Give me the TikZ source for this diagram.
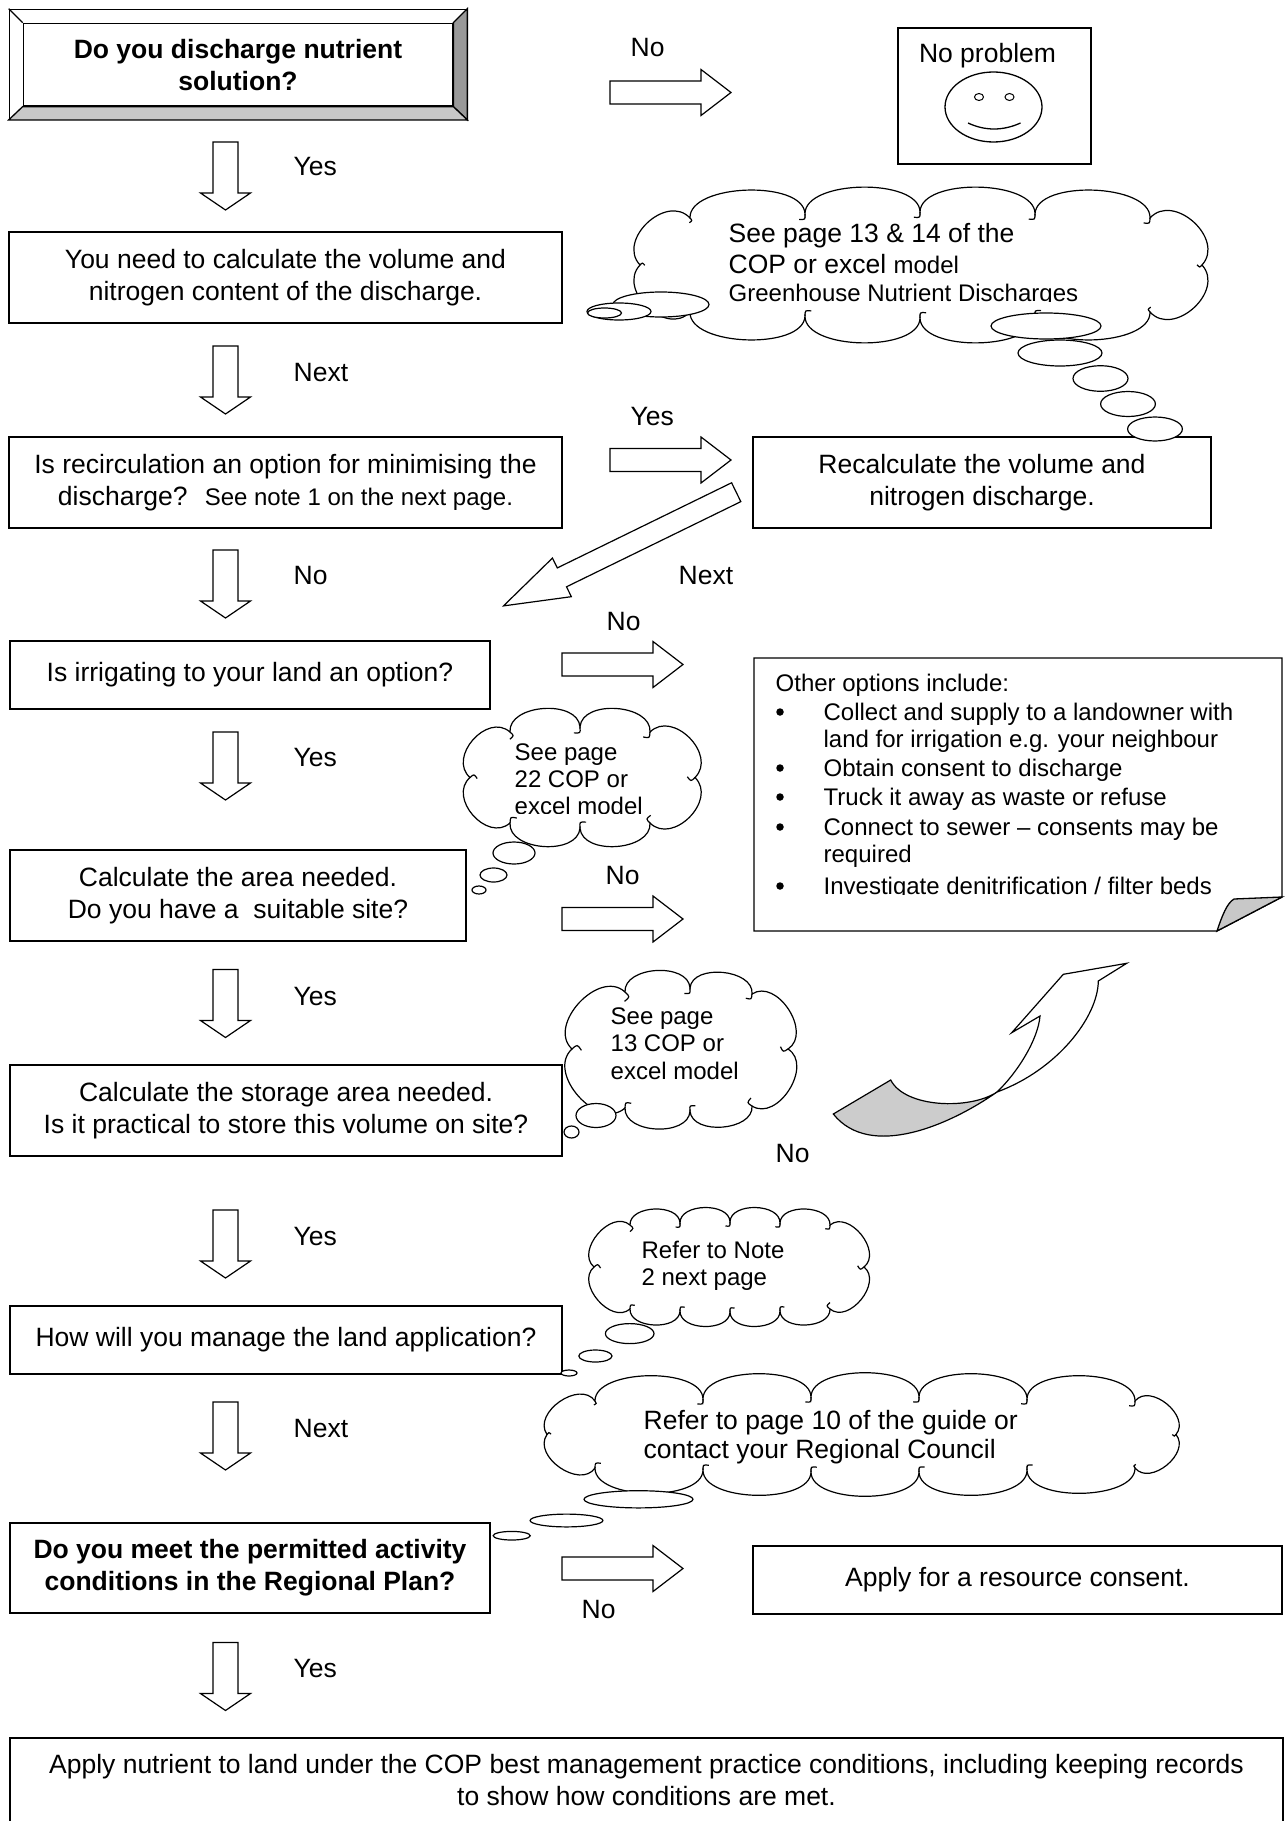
\documentclass[tikz,border=0pt]{standalone}
\usepackage{fontspec}
\setmainfont{Liberation Sans}
\usetikzlibrary{shapes.geometric,calc}
\definecolor{bevgray}{HTML}{999999}
\definecolor{bevlight}{HTML}{C8C8C8}
\definecolor{curlgray}{HTML}{CCCCCC}
\newcommand\bigf{\fontsize{26.5}{32}\selectfont}
\newcommand\smallf{\fontsize{24}{28}\selectfont}
% cloud outlines (point lists, clockwise on the page)
\newcommand\cloudA{(640,265) to[pf=0.5] (690,218) to (805,214) to (920,212) to (1035,214) to (1150,218) to[pf=0.5] (1202,265) to[pf=0.5] (1150,312) to (1035,316) to (920,318) to (805,316) to (690,312) to[pf=0.5] (640,265)}
\newcommand\cloudB{(510,732) to (580,727) to (650,732) to[pf=0.5] (695,777.5) to[pf=0.5] (650,823) to (580,828) to (510,823) to[pf=0.5] (470,777.5) to[pf=0.5] (510,732)}
\newcommand\cloudC{(625,992) to (690,988) to (752,994) to[pf=0.45] (788,1049) to[pf=0.45] (752,1106) to (690,1111) to (625,1108) to[pf=0.45] (572,1049) to[pf=0.45] (625,992)}
\newcommand\cloudD{(630,1225) to (680,1223) to (730,1222) to (780,1223) to (830,1225) to[pf=0.45] (864,1267) to[pf=0.45] (830,1309) to (780,1311) to (730,1312) to (680,1311) to (630,1309) to[pf=0.45] (594,1267) to[pf=0.45] (630,1225)}
\newcommand\cloudE{(595,1401) to (703,1399) to (811,1397) to (919,1397) to (1027,1399) to (1135,1401) to[pf=0.45] (1176,1434.5) to[pf=0.45] (1135,1468) to (1027,1470) to (919,1472) to (811,1472) to (703,1470) to (595,1468) to[pf=0.45] (547,1434.5) to[pf=0.45] (595,1401)}
\begin{document}
\begin{tikzpicture}[x=1pt,y=-1pt,
  line width=1.3pt,
  box/.style={draw, fill=white, align=center, font=\bigf, inner sep=0pt},
  lbl/.style={font=\bigf, inner sep=0pt, anchor=base west},
  sml/.style={font=\smallf, inner sep=0pt, anchor=base west},
  dot/.style={circle, fill, inner sep=0pt, minimum size=7.5pt},
  arr/.style={draw, fill=white, line width=1.2pt, line join=miter},
  bub/.style={draw, fill=white, line width=1.2pt},
  puff/.style={to path={.. controls ($(\tikztostart)!#1!90:(\tikztotarget)$) and ($(\tikztotarget)!#1!-90:(\tikztostart)$) .. (\tikztotarget)}},
  puff/.default=0.4,
  stub/.style args={#1/#2}{to path={(\tikztotarget) .. controls ($(\tikztotarget)!#1!90:(\tikztostart)$) .. ($(\tikztotarget)!#2!40:(\tikztostart)$) (\tikztotarget)}},
  cloudline/.style={draw, fill=white, line width=1.2pt, every to/.style={puff=#1}, pf/.style={puff=##1}},
  cloudline/.default=0.4,
  curlline/.style={draw, line width=1.2pt, every to/.style={stub=#1}, pf/.style={stub=#1}},
  curlline/.default=0.09/0.12,
  pics/dnarrow/.style={code={\draw[arr] (0,-12.5) -- (51,-12.5) -- (51,-25) -- (68,0) -- (51,25) -- (51,12.5) -- (0,12.5) -- cycle;}},
  pics/rtarrow/.style={code={\draw[arr] (0,-11.5) -- (91,-11.5) -- (91,-23) -- (121,0) -- (91,23) -- (91,11.5) -- (0,11.5) -- cycle;}},
  pics/dgarrow/.style={code={\draw[arr] (0,-10.5) -- (194,-10.5) -- (194,-21.5) -- (259,0) -- (194,21.5) -- (194,10.5) -- (0,10.5) -- cycle;}}
]
\useasboundingbox (0,0) rectangle (1287,1822);

% ---------- top bevelled box ----------
\node[draw, minimum width=457.4pt, minimum height=110pt, inner sep=0pt] (b1) at (238,64.3) {};
\node[box, minimum width=429.4pt, minimum height=82.7pt, font=\bigf\bfseries] (b1i) at (238,64.65) {Do you discharge nutrient\\solution?};
\filldraw[fill=bevgray] (b1.north east) -- (b1.south east) -- (b1i.south east) -- (b1i.north east) -- cycle;
\filldraw[fill=bevlight] (b1.south west) -- (b1.south east) -- (b1i.south east) -- (b1i.south west) -- cycle;
\draw (b1.north west) -- (b1i.north west);

% ---------- No problem ----------
\node[draw, minimum width=193pt, minimum height=136pt, inner sep=0pt] (np) at (994.5,96) {};
\node[font=\bigf, inner sep=0pt, anchor=base] (nptext) at (987.5,63) {No problem};
\node[ellipse, draw, minimum width=97pt, minimum height=70pt, inner sep=0pt] (face) at (993.5,107) {};
\node[ellipse, draw, line width=1pt, minimum width=9pt, minimum height=7pt, inner sep=0pt] (eyel) at (979,97) {};
\node[ellipse, draw, line width=1pt, minimum width=9pt, minimum height=7pt, inner sep=0pt] (eyer) at (1009.5,97) {};
\coordinate (sml) at (968,123);
\coordinate (smr) at (1020.5,123);
\draw (sml) .. controls (985,131) and (1003,131) .. (smr);

% ---------- cloud 1 ----------
\draw[cloudline=0.3] \cloudA -- cycle;
\draw[curlline=0.05/0.07] \cloudA;
\node[lbl] (c1t1) at (728,242) {See page 13 \& 14 of the};
\node[lbl] (c1t2) at (728,273) {COP or excel {\smallf model}};
\begin{scope}
\clip (700,280) rectangle (1150,301.5);
\node[sml] (c1t3) at (728,301.5) {Greenhouse Nutrient Discharges};
\end{scope}
\draw[bub] (661,304.5) ellipse [x radius=48, y radius=12.5];
\draw[bub] (619,311.5) ellipse [x radius=32, y radius=8.5];
\draw[bub] (604.5,313) ellipse [x radius=17, y radius=5];

% ---------- boxes ----------
\node[box, minimum width=553pt, minimum height=91pt] (b2) at (285.5,277.5) {You need to calculate the volume and\\nitrogen content of the discharge.};
\node[box, minimum width=553pt, minimum height=91pt] (b3) at (285.5,482.5) {Is recirculation an option for minimising the\\discharge?~ {\smallf See note 1 on the next page.}};
\node[box, minimum width=458pt, minimum height=91pt] (rc) at (982,482.5) {Recalculate the volume and\\nitrogen discharge.};
\node[box, minimum width=480pt, minimum height=68pt] (b4) at (250,675) {Is irrigating to your land an option?};
\node[box, minimum width=456pt, minimum height=91pt] (b5) at (238,895.5) {Calculate the area needed.\\Do you have a~ suitable site?};
\node[box, minimum width=552pt, minimum height=91pt] (b6) at (286,1110.5) {Calculate the storage area needed.\\Is it practical to store this volume on site?};
\node[box, minimum width=552pt, minimum height=68pt] (b7) at (286,1340) {How will you manage the land application?};
\node[box, minimum width=480pt, minimum height=90pt, font=\bigf\bfseries] (b8) at (250,1568) {Do you meet the permitted activity\\conditions in the Regional Plan?};
\node[box, minimum width=529pt, minimum height=68pt] (cs) at (1017.5,1580) {Apply for a resource consent.};
\begin{scope}
\clip (0,1700) rectangle (1287,1820.5);
\node[box, minimum width=1273pt, minimum height=84pt] (b9) at (646.5,1780) {Apply nutrient to land under the COP best management practice conditions, including keeping records\\to show how conditions are met.};
\end{scope}

% cloud 1 tail to recalc box
\draw[bub] (1046,326) ellipse [x radius=55, y radius=13];
\draw[bub] (1060,353) ellipse [x radius=42, y radius=13];
\draw[bub] (1100.5,378.5) ellipse [x radius=27.5, y radius=12.8];
\draw[bub] (1128,404) ellipse [x radius=27.4, y radius=12.5];
\draw[bub] (1155,429) ellipse [x radius=27.4, y radius=12];

% ---------- other options (folded corner) ----------
\coordinate (oo1) at (754,658);
\coordinate (oo2) at (1282,658);
\coordinate (oo3) at (1282,897);
\coordinate (oo4) at (1217,931);
\coordinate (oo5) at (754,931);
\coordinate (oo6) at (1234,899);
\draw[fill=white] (oo1) -- (oo2) -- (oo3) -- (oo4) -- (oo5) -- cycle;
\draw[fill=bevlight] (oo4) .. controls (1222,916) and (1227,903) .. (oo6) -- (oo3) -- cycle;
\node[sml] (ot0) at (775,691) {Other options include:};
\node[dot] (ob1) at (780,712) {};
\node[sml] (ot1) at (823,720) {Collect and supply to a landowner with};
\node[sml] (ot1b) at (823,747) {land for irrigation e.g. your neighbour};
\node[dot] (ob2) at (780,768) {};
\node[sml] (ot2) at (823,776) {Obtain consent to discharge};
\node[dot] (ob3) at (780,797) {};
\node[sml] (ot3) at (823,805) {Truck it away as waste or refuse};
\node[dot] (ob4) at (780,827) {};
\node[sml] (ot4) at (823,835) {Connect to sewer \textendash\ consents may be};
\node[sml] (ot4b) at (823,862.5) {required};
\node[dot] (ob5) at (780,886) {};
\begin{scope}
\clip (760,860) rectangle (1270,894);
\node[sml] (ot5) at (823,894) {Investigate denitrification / filter beds};
\end{scope}

% ---------- cloud 2 ----------
\draw[cloudline=0.4] \cloudB -- cycle;
\draw[curlline] \cloudB;
\node[sml] (c2t1) at (514,760.5) {See page};
\node[sml] (c2t2) at (514,787.5) {22 COP or};
\begin{scope}
\clip (500,790) rectangle (700,813);
\node[sml] (c2t3) at (514,814.5) {excel model};
\end{scope}
\draw[bub] (514,853) ellipse [x radius=21, y radius=11];
\draw[bub] (493.5,875) ellipse [x radius=13.5, y radius=7];
\draw[bub] (479,890) ellipse [x radius=7, y radius=4];

% ---------- cloud 3 ----------
\draw[cloudline=0.4] \cloudC -- cycle;
\draw[curlline] \cloudC;
\node[sml] (c3t1) at (610,1024.5) {See page};
\node[sml] (c3t2) at (610,1051.5) {13 COP or};
\node[sml] (c3t3) at (610,1079) {excel model};
\draw[bub] (596,1115.5) ellipse [x radius=20, y radius=12];
\draw[bub] (571.5,1132) ellipse [x radius=7.5, y radius=6];

% ---------- cloud 4 ----------
\draw[cloudline=0.4] \cloudD -- cycle;
\draw[curlline] \cloudD;
\node[sml] (c4t1) at (641,1258) {Refer to Note};
\node[sml] (c4t2) at (641,1285) {2 next page};
\draw[bub] (629.7,1333.6) ellipse [x radius=24.3, y radius=10];
\draw[bub] (595.4,1356) ellipse [x radius=16.6, y radius=6];
\draw[bub] (569,1373) ellipse [x radius=8, y radius=3];

% ---------- cloud 5 ----------
\draw[cloudline=0.3] \cloudE -- cycle;
\draw[curlline=0.05/0.07] \cloudE;
\node[lbl] (c5t1) at (643,1429.5) {Refer to page 10 of the guide or};
\node[lbl] (c5t2) at (643,1458.5) {contact your Regional Council};
\draw[bub] (638.5,1499.3) ellipse [x radius=54.5, y radius=8.6];
\draw[bub] (566.5,1520.5) ellipse [x radius=36.4, y radius=6.4];
\draw[bub] (511.7,1535.7) ellipse [x radius=18.5, y radius=4.3];

% ---------- block arrows ----------
\coordinate (a1) at (225.5,142);
\coordinate (a2) at (225.5,346);
\coordinate (a3) at (225.5,550);
\coordinate (a4) at (225.5,732);
\coordinate (a5) at (225.5,969.5);
\coordinate (a6) at (225.5,1210);
\coordinate (a7) at (225.5,1402);
\coordinate (a8) at (225.5,1642.5);
\foreach \c in {a1,a2,a3,a4,a5,a6,a7,a8} {\pic[rotate=-90] at (\c) {dnarrow};}
\coordinate (r1) at (610,92.5);
\coordinate (r2) at (610,460);
\coordinate (r3) at (562,664.5);
\coordinate (r4) at (562,919);
\coordinate (r8) at (562,1568.5);
\foreach \c in {r1,r2,r3,r4,r8} {\pic at (\c) {rtarrow};}
\coordinate (dg) at (736.2,492.2);
\pic[rotate=-153.96] at (dg) {dgarrow};

% ---------- curved arrow ----------
\coordinate (ca) at (833.3,1114);
\coordinate (cb) at (890.7,1080);
\coordinate (cc) at (997,1092);
\coordinate (cd) at (1040,1016);
\coordinate (ce) at (1011.7,1032.7);
\coordinate (cf) at (1063.3,974.3);
\coordinate (cg) at (1126.7,963.3);
\coordinate (ch) at (1098.3,981);
\draw[fill=curlgray, line width=1.2pt] (ca) -- (cb) .. controls (905,1108) and (970,1110) .. (cc) .. controls (950,1125) and (870,1160) .. (ca) -- cycle;
\draw[fill=white, line width=1.2pt, line join=miter] (cc) .. controls (1017,1073) and (1038,1040) .. (cd) -- (ce) -- (cf) -- (cg) -- (ch) .. controls (1098,1017) and (1057,1070) .. (cc) -- cycle;

% ---------- labels ----------
\node[lbl] (l1) at (293,176) {Yes};
\node[lbl] (l2) at (293,381.5) {Next};
\node[lbl] (l3) at (293,584.5) {No};
\node[lbl] (l4) at (293,766.5) {Yes};
\node[lbl] (l5) at (293,1005.5) {Yes};
\node[lbl] (l6) at (293,1245.5) {Yes};
\node[lbl] (l7) at (293,1437.5) {Next};
\node[lbl] (l8) at (293,1677.5) {Yes};
\node[lbl] (lr1) at (630,56.5) {No};
\node[lbl] (lr2) at (630,425.5) {Yes};
\node[lbl] (ldg) at (678,584.5) {Next};
\node[lbl] (lr3) at (606,630.5) {No};
\node[lbl] (lr4) at (605,884.5) {No};
\node[lbl] (lcv) at (775,1162.5) {No};
\node[lbl] (lr8) at (581,1618.5) {No};
\end{tikzpicture}
\end{document}
